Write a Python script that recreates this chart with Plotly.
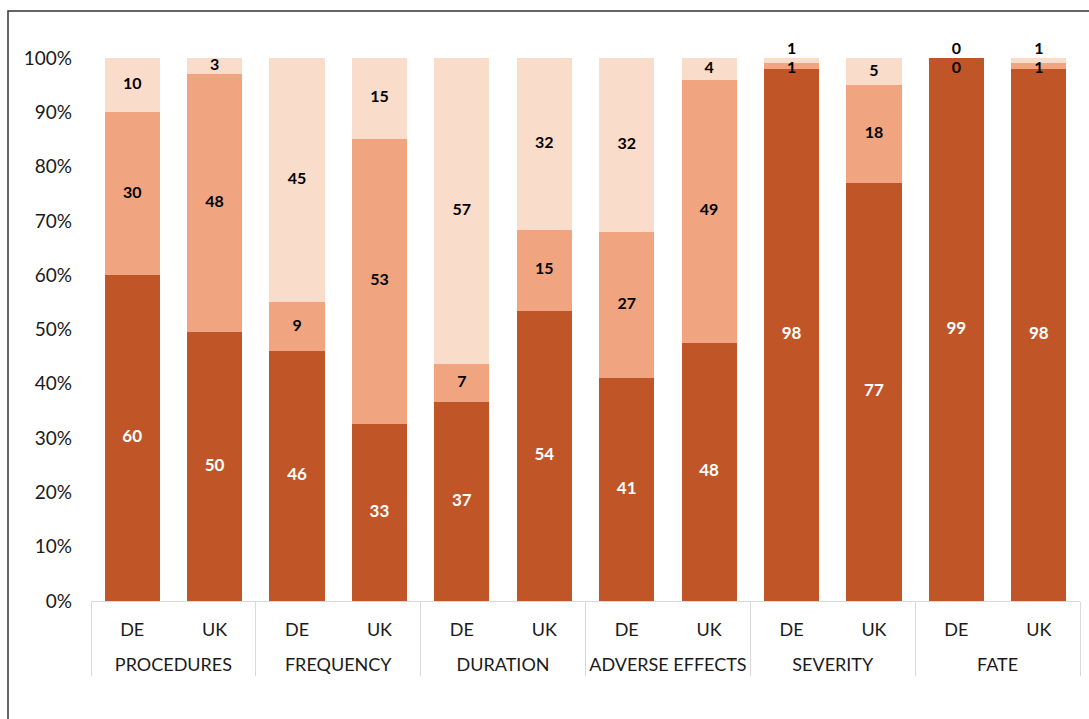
import plotly.graph_objects as go

groups = ["PROCEDURES", "FREQUENCY", "DURATION", "ADVERSE EFFECTS", "SEVERITY", "FATE"]
countries = ["DE", "UK"]

# values per bar in order: PROCEDURES DE, UK, FREQUENCY DE, UK, ...
series_dark = [60, 50, 46, 33, 37, 54, 41, 48, 98, 77, 99, 98]
series_mid = [30, 48, 9, 53, 7, 15, 27, 49, 1, 18, 0, 1]
series_light = [10, 3, 45, 15, 57, 32, 32, 4, 1, 5, 0, 1]

y_ticks = list(range(0, 101, 10))
y_ticktext = [f"{v}%" for v in y_ticks]

col_dark = "#C05628"
col_mid = "#F0A580"
col_light = "#FADCCB"

xg = ["<br>" + g for g in groups for _ in countries]
xc = [c for _ in groups for c in countries]
x = [xg, xc]

fig = go.Figure()
for vals, col in [(series_dark, col_dark), (series_mid, col_mid), (series_light, col_light)]:
    fig.add_trace(go.Bar(x=x, y=vals, marker=dict(color=col, line=dict(width=0)),
                         showlegend=False, hoverinfo="skip"))

# label positions from normalized data
yd, ym, yl, posl = [], [], [], []
for d, m, l in zip(series_dark, series_mid, series_light):
    t = d + m + l
    pd_, pm, pl = d / t * 100, m / t * 100, l / t * 100
    yd.append(pd_ / 2)
    ym.append(min(pd_ + pm / 2, 97.9))
    if pl < 2.5:
        yl.append(100)
        posl.append("top center")
    else:
        yl.append(pd_ + pm + pl / 2)
        posl.append("middle center")

lab_font = dict(family="Lato, 'Open Sans', sans-serif", size=16)
fig.add_trace(go.Scatter(x=x, y=yd, text=[str(v) for v in series_dark], mode="text",
                         textfont=dict(color="white", family=lab_font["family"], size=17),
                         texttemplate="<b>%{text}</b>",
                         showlegend=False, hoverinfo="skip", cliponaxis=False))
fig.add_trace(go.Scatter(x=x, y=ym, text=[str(v) for v in series_mid], mode="text",
                         textfont=dict(color="black", **lab_font), texttemplate="<b>%{text}</b>",
                         showlegend=False, hoverinfo="skip", cliponaxis=False))
fig.add_trace(go.Scatter(x=x, y=yl, text=[str(v) for v in series_light], mode="text",
                         textposition=posl,
                         textfont=dict(color="black", **lab_font), texttemplate="<b>%{text}</b>",
                         showlegend=False, hoverinfo="skip", cliponaxis=False))

W, H = 1089, 719
l, r, t, b = 91, 9, 58, 118
pw, ph = W - l - r, H - t - b

fig.update_layout(
    width=W, height=H,
    margin=dict(l=l, r=r, t=t, b=b),
    barmode="stack", barnorm="percent", bargap=0.33,
    paper_bgcolor="white", plot_bgcolor="white",
    font=dict(family="Lato, 'Open Sans', sans-serif", size=18, color="#1a1a1a"),
    xaxis=dict(type="multicategory", showline=True, linecolor="#D9D9D9", linewidth=1,
               showdividers=True, dividercolor="#D9D9D9", dividerwidth=1,
               range=[-0.5, 11.5], automargin=False,
               tickfont=dict(size=18), showgrid=False, ticks="", ticklabelstandoff=12),
    yaxis=dict(range=[0, 100], tickmode="array", tickvals=y_ticks, ticktext=y_ticktext,
               showgrid=False, zeroline=False, showline=False, ticks="", automargin=False,
               ticklabelstandoff=18, tickfont=dict(size=19)),
    shapes=[dict(type="rect", xref="paper", yref="paper",
                 x0=(8 - l) / pw, x1=1.1, y0=-0.5, y1=(H - b - 11) / ph,
                 line=dict(color="#333333", width=1.5), fillcolor="rgba(0,0,0,0)")],
)

fig.write_html("out.html")
